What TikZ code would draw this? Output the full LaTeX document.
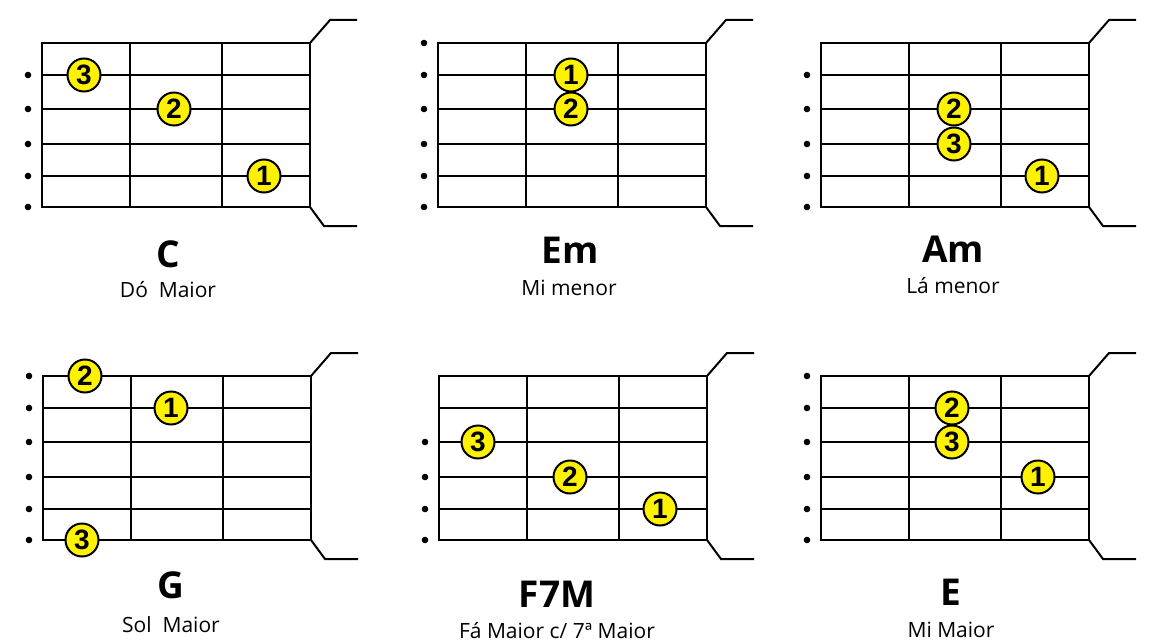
\documentclass[tikz,border=0pt]{standalone}
\usepackage{fontspec}
\setmainfont{Open Sans}
\newfontfamily\numfont{Liberation Sans}
\tikzset{
    grade/.style={line width=2pt},
    dedo/.style={circle, draw, fill=yellow, line width=2pt, minimum size=33pt, inner sep=0pt,
      font=\numfont\bfseries\fontsize{28}{28}\selectfont},
    solta/.style={fill=black},
    nome/.style={anchor=base, font=\bfseries\fontsize{37}{40}\selectfont},
    legenda/.style={anchor=base, font=\fontsize{21}{24}\selectfont},
    pics/braco/.style={code={
      \draw[grade] (0,0) rectangle (268,164);
      \foreach \y in {32,66,101,133} \draw[grade] (0,\y) -- (268,\y);
      \foreach \x in {88,180} \draw[grade] (\x,0) -- (\x,164);
      \draw[grade] (268,0) -- (288,-23) -- (315,-23) (268,164) -- (282,183) -- (315,183);
    }},
  }
\begin{document}
\begin{tikzpicture}[x=1pt, y=-1pt]
				  \useasboundingbox (0,0) rectangle (1170,642);
				  %C
				  \begin{scope}[shift={(42,43)}]
				  \pic {braco};
				  \foreach \y in {32,66,101,133,164} \fill[solta] (-14,\y) circle (3.3);
				  \node[dedo] (C3) at (42,32) {3};
				  \node[dedo] (C2) at (132,66) {2};
				  \node[dedo] (C1) at (222,133) {1};
				  \end{scope}
				  %Em
				  \begin{scope}[shift={(438,43)}]
				  \pic {braco};
				  \foreach \y in {0,32,66,101,133,164} \fill[solta] (-14,\y) circle (3.3);
				  \node[dedo] (Em1) at (133,32) {1};
				  \node[dedo] (Em2) at (133,66) {2};
				  \end{scope}
				  %Am
				  \begin{scope}[shift={(821,43)}]
				  \pic {braco};
				  \foreach \y in {32,66,101,133,164} \fill[solta] (-14,\y) circle (3.3);
				  \node[dedo] (Am2) at (133,66) {2};
				  \node[dedo] (Am3) at (133,101) {3};
				  \node[dedo] (Am1) at (221,133) {1};
				  \end{scope}
				  %G
				  \begin{scope}[shift={(43,376)}]
				  \pic {braco};
				  \foreach \y in {0,32,66,101,133,164} \fill[solta] (-14,\y) circle (3.3);
				  \node[dedo] (G2) at (42,0) {2};
				  \node[dedo] (G1) at (128,32) {1};
				  \node[dedo] (G3) at (39,164) {3};
				  \end{scope}
				  %F7M
				  \begin{scope}[shift={(439,376)}]
				  \pic {braco};
				  \foreach \y in {66,101,133,164} \fill[solta] (-14,\y) circle (3.3);
				  \node[dedo] (F3) at (39,66) {3};
				  \node[dedo] (F2) at (131,101) {2};
				  \node[dedo] (F1) at (221,133) {1};
				  \end{scope}
				  %E
				  \begin{scope}[shift={(821,376)}]
				  \pic {braco};
				  \foreach \y in {0,32,66,101,133,164} \fill[solta] (-14,\y) circle (3.3);
				  \node[dedo] (E2) at (131,32) {2};
				  \node[dedo] (E3) at (131,66) {3};
				  \node[dedo] (E1) at (217,101) {1};
				  \end{scope}
				  %nomes
				  \node[nome] (nC) at (168,267) {C};
				  \node[legenda] (lC) at (168,297) {Dó\ \ Maior};
				  \node[nome] (nEm) at (570,263) {Em};
				  \node[legenda] (lEm) at (569,295) {Mi menor};
				  \node[nome] (nAm) at (953,262) {Am};
				  \node[legenda] (lAm) at (953,293) {Lá menor};
				  \node[nome] (nG) at (171,598) {G};
				  \node[legenda] (lG) at (171,632) {Sol\ \ Maior};
				  \node[nome] (nF) at (557,607) {F7M};
				  \node[legenda] (lF) at (557,638) {Fá Maior c/ 7ª Maior};
				  \node[nome] (nE) at (951,605) {E};
				  \node[legenda] (lE) at (951,637) {Mi Maior};
\end{tikzpicture}
\end{document}
